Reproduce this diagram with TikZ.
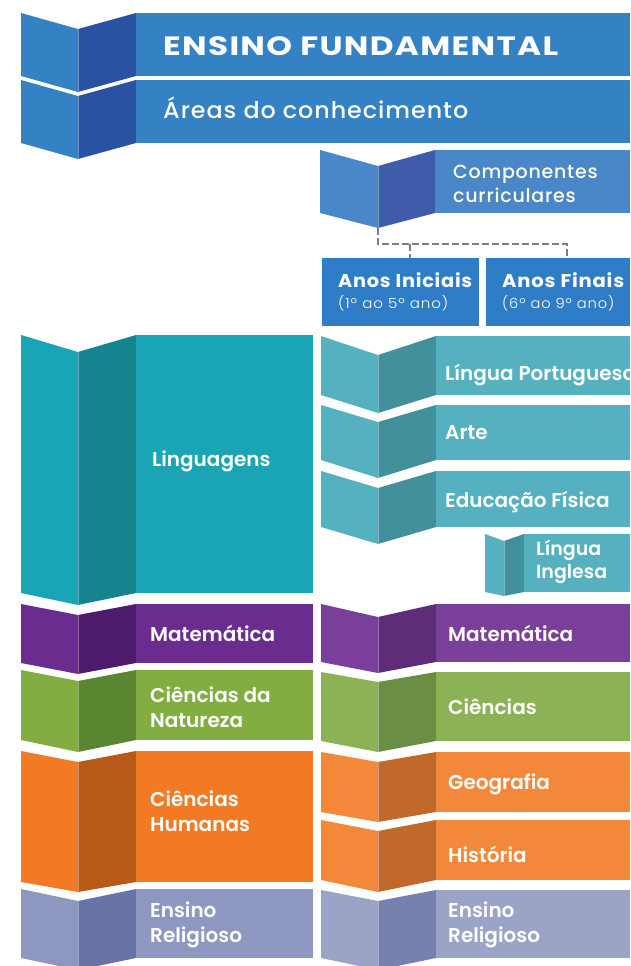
\documentclass[tikz,border=0pt]{standalone}
\usepackage{fontspec}
\usetikzlibrary{calc}
\setmainfont{Poppins}
\IfFontExistsTF{Poppins SemiBold}{\newfontfamily\semib{Poppins SemiBold}}{\newfontfamily\semib{Poppins}[FakeBold=1]}
\IfFontExistsTF{Poppins Medium}{\newfontfamily\medf{Poppins Medium}[LetterSpace=4]}{\newfontfamily\medf{Poppins}[FakeBold=0.5,LetterSpace=4]}
\IfFontExistsTF{Poppins Light}{\newfontfamily\lightf{Poppins Light}[LetterSpace=6]}{\newfontfamily\lightf{Poppins}[LetterSpace=6]}
\newfontfamily\titlef{Poppins Bold}[LetterSpace=4]
\newfontfamily\anosf{Poppins Bold}[LetterSpace=4]
\newcommand\fitw[2]{\resizebox{#1}{\height}{#2}}
\definecolor{blueA}{HTML}{3481C4}\definecolor{blueAD}{HTML}{2A52A2}
\definecolor{cc}{HTML}{4A87C8}\definecolor{ccD}{HTML}{3F5BAA}
\definecolor{anos}{HTML}{2F7DC6}
\definecolor{lin}{HTML}{19A5B5}\definecolor{linD}{HTML}{15848F}
\definecolor{lin2}{HTML}{55B1BF}\definecolor{lin2D}{HTML}{43909D}
\definecolor{mat}{HTML}{6A2C8F}\definecolor{matD}{HTML}{4E1A6B}
\definecolor{mat2}{HTML}{7A3F98}\definecolor{mat2D}{HTML}{5E2C78}
\definecolor{cn}{HTML}{81AD41}\definecolor{cnD}{HTML}{5A8632}
\definecolor{cn2}{HTML}{8BB356}\definecolor{cn2D}{HTML}{6A8E44}
\definecolor{ch}{HTML}{F37A24}\definecolor{chD}{HTML}{B85A17}
\definecolor{ch2}{HTML}{F4883A}\definecolor{ch2D}{HTML}{C0692B}
\definecolor{er}{HTML}{8E97C0}\definecolor{erD}{HTML}{6874A8}
\definecolor{er2}{HTML}{9BA3C7}\definecolor{er2D}{HTML}{7781AE}
\definecolor{dashgray}{HTML}{7E7E7E}
% x0 x1 x2 xend ytop ybottom dtop dbottom scheme
\newcommand\fblk[9]{%
  \fill[#9] (#1,#5) -- (#2,#5+#7) -- (#2,#6+#8) -- (#1,#6) -- cycle;
  \fill[#9D] (#2,#5+#7) -- (#3,#5) -- (#3,#6) -- (#2,#6+#8) -- cycle;
  \fill[#9] (#3,#5) rectangle (#4,#6);
  \draw[white,opacity=.35,line width=.6] (#2,#5+#7) -- (#2,#6+#8);
}
\tikzset{
  lbl/.style={text=white, inner sep=0pt, align=left, font=\semib\fontsize{20}{25}\selectfont},
  anosbox/.style={fill=anos, draw=none, inner sep=0pt, minimum width=#1, minimum height=68pt, anchor=north west},
  anost/.style={text=white, inner sep=0pt, anchor=base west, font=\anosf\fontsize{18.5}{22}\selectfont},
  anoss/.style={text=white, inner sep=0pt, anchor=base west, font=\lightf\fontsize{14}{16}\selectfont},
  dashline/.style={dashgray, line width=1.6pt, dash pattern=on 6.5pt off 3.5pt}
}
\begin{document}
\begin{tikzpicture}[x=1pt,y=-1pt]
\useasboundingbox (0,0) rectangle (630,966);
\clip (0,0) rectangle (630,966);
% header
\fblk{21}{78}{136}{630}{13}{76}{16}{16}{blueA}
\fblk{21}{78}{136}{630}{80}{143}{16}{16}{blueA}
\node[text=white, inner sep=0pt, anchor=base west, font=\titlef\fontsize{26.5}{30}\selectfont] (ef) at (163,56) {\fitw{395pt}{ENSINO FUNDAMENTAL}};
\node[text=white, inner sep=0pt, anchor=base west, font=\medf\fontsize{23}{26}\selectfont] (ac) at (163,118) {\fitw{305pt}{Áreas do conhecimento}};
% componentes curriculares
\fblk{320}{378}{435}{630}{150}{213}{16}{15}{cc}
\node[lbl, anchor=west, font=\medf\fontsize{19}{23.5}\selectfont] (cc) at (453,184) {Componentes\\curriculares};
\coordinate (ccb) at (378,228);
% anos
\node[anosbox=157pt] (ai) at (322,258) {};
\node[anosbox=144pt] (af) at (486,258) {};
\node[anost] (ait) at (338,287) {\fitw{134pt}{Anos Iniciais}};
\node[anoss] (ais) at (338,308) {\fitw{110pt}{(1º ao 5º ano)}};
\node[anost] (aft) at (502,287) {\fitw{122pt}{Anos Finais}};
\node[anoss] (afs) at (502,308) {\fitw{112pt}{(6º ao 9º ano)}};
\coordinate (j1) at (378,244);
\coordinate (b1) at (410,244);
\coordinate (b2) at (567,244);
\draw[dashline] (ccb) -- (j1) -- (b2) -- (b2 |- af.north);
\draw[dashline] (b1) -- (b1 |- ai.north);
% left column
\fblk{21}{78}{136}{313}{335}{593}{17}{12}{lin}
\fblk{21}{78}{136}{313}{604}{663}{11}{11}{mat}
\fblk{21}{78}{136}{313}{670}{740}{11}{12}{cn}
\fblk{21}{78}{136}{313}{751}{882}{11}{10}{ch}
\fblk{21}{78}{136}{313}{889}{958}{12}{12}{er}
\node[lbl, anchor=base west] (lg) at (152,466) {Linguagens};
\node[lbl, anchor=base west] (ml) at (150,641) {Matemática};
\node[lbl, anchor=west] (cnl) at (150,707) {Ciências da\\Natureza};
\node[lbl, anchor=west] (chl) at (150,811) {Ciências\\Humanas};
\node[lbl, anchor=west] (erl) at (150,925) {Ensino\\Religioso};
% right column
\fblk{321}{378}{436}{630}{336}{395}{19}{18}{lin2}
\fblk{321}{378}{436}{630}{405}{460}{17}{18}{lin2}
\fblk{321}{378}{436}{630}{471}{527}{17}{17}{lin2}
\fblk{485}{504}{524}{630}{534}{592}{7}{4}{lin2}
\fblk{321}{378}{436}{630}{604}{662}{13}{11}{mat2}
\fblk{321}{378}{436}{630}{672}{741}{10}{11}{cn2}
\fblk{321}{378}{436}{630}{752}{812}{10}{10}{ch2}
\fblk{321}{378}{436}{630}{820}{880}{11}{12}{ch2}
\fblk{321}{378}{436}{630}{890}{958}{11}{12}{er2}
\node[lbl, anchor=base west] (lp) at (445,380) {Língua Portuguesa};
\node[lbl, anchor=base west] (ar) at (445,439) {Arte};
\node[lbl, anchor=base west] (edf) at (445,507) {Educação Física};
\node[lbl, anchor=west, font=\semib\fontsize{19}{23}\selectfont] (li) at (536,562) {Língua\\Inglesa};
\node[lbl, anchor=base west] (mr) at (448,641) {Matemática};
\node[lbl, anchor=base west] (ci) at (448,714) {Ciências};
\node[lbl, anchor=base west] (ge) at (448,789) {Geografia};
\node[lbl, anchor=base west] (hi) at (448,862) {História};
\node[lbl, anchor=west] (err) at (448,925) {Ensino\\Religioso};
\end{tikzpicture}
\end{document}
